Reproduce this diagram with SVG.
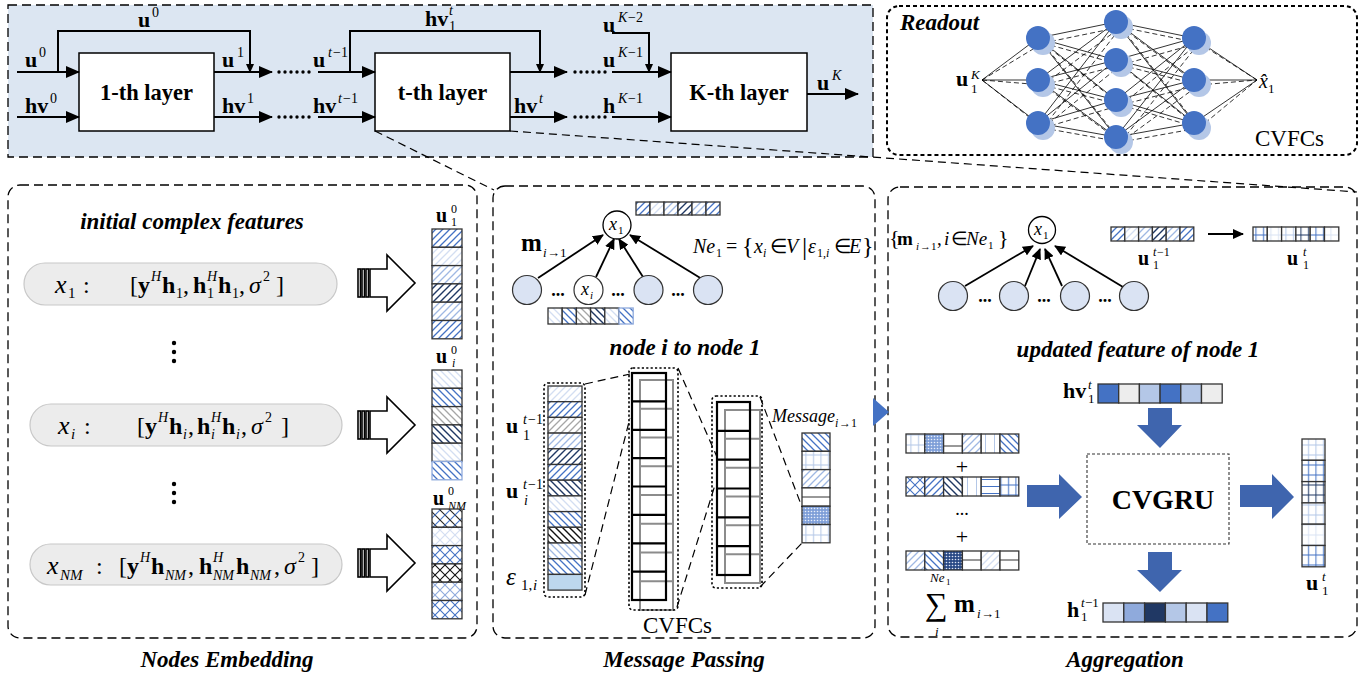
<svg xmlns="http://www.w3.org/2000/svg" width="1372" height="679" viewBox="0 0 1372 679">
<style>
.t{font-family:"Liberation Serif","Times New Roman",serif;fill:#000}
.b{font-weight:bold}
.i{font-style:italic}
.bi{font-weight:bold;font-style:italic}
.panel{fill:none;stroke:#000;stroke-width:1.3;stroke-dasharray:9,5}
.ln{stroke:#000;stroke-width:2;fill:none}
.ln1{stroke:#000;stroke-width:1.8;fill:none}
.c{stroke:#333;stroke-width:1.3}
.dot{fill:none;stroke:#000;stroke-width:1.6;stroke-dasharray:2.2,2.2}
.zl{fill:none;stroke:#000;stroke-width:1.2;stroke-dasharray:8,5}
.barr{fill:#3f65ae}
.box{fill:#fff;stroke:#000;stroke-width:1.5}
</style>
<defs>
<marker id="ah" markerWidth="14" markerHeight="12" refX="13" refY="6" orient="auto" markerUnits="userSpaceOnUse"><path d="M0,0L14,6L0,12z" fill="#000"/></marker>
<marker id="ahs" markerWidth="9" markerHeight="8" refX="8" refY="4" orient="auto" markerUnits="userSpaceOnUse"><path d="M0,0L9,4L0,8z" fill="#000"/></marker>
<marker id="ahm" markerWidth="11" markerHeight="10" refX="10" refY="5" orient="auto" markerUnits="userSpaceOnUse"><path d="M0,0L11,5L0,10z" fill="#000"/></marker>
<pattern id="sB" width="7" height="7" patternUnits="userSpaceOnUse"><rect width="7" height="7" fill="#fff"/><path d="M0,7L7,0M-1,1L1,-1M6,8L8,6" stroke="#4472c4" stroke-width="1.3"/></pattern>
<pattern id="sL" width="7" height="7" patternUnits="userSpaceOnUse"><rect width="7" height="7" fill="#fff"/><path d="M0,7L7,0M-1,1L1,-1M6,8L8,6" stroke="#9fb8e3" stroke-width="1.3"/></pattern>
<pattern id="sP" width="7" height="7" patternUnits="userSpaceOnUse"><rect width="7" height="7" fill="#fff"/><path d="M0,7L7,0M-1,1L1,-1M6,8L8,6" stroke="#d3def2" stroke-width="1.3"/></pattern>
<pattern id="sD" width="7" height="7" patternUnits="userSpaceOnUse"><rect width="7" height="7" fill="#fff"/><path d="M0,7L7,0M-1,1L1,-1M6,8L8,6" stroke="#1f3864" stroke-width="1.4"/></pattern>
<pattern id="sG" width="7" height="7" patternUnits="userSpaceOnUse"><rect width="7" height="7" fill="#fff"/><path d="M0,7L7,0M-1,1L1,-1M6,8L8,6" stroke="#a6a6a6" stroke-width="1.3"/></pattern>
<pattern id="kB" width="7" height="7" patternUnits="userSpaceOnUse"><rect width="7" height="7" fill="#fff"/><path d="M0,0L7,7M-1,6L1,8M6,-1L8,1" stroke="#4472c4" stroke-width="1.3"/></pattern>
<pattern id="kL" width="7" height="7" patternUnits="userSpaceOnUse"><rect width="7" height="7" fill="#fff"/><path d="M0,0L7,7M-1,6L1,8M6,-1L8,1" stroke="#9fb8e3" stroke-width="1.3"/></pattern>
<pattern id="kP" width="7" height="7" patternUnits="userSpaceOnUse"><rect width="7" height="7" fill="#fff"/><path d="M0,0L7,7M-1,6L1,8M6,-1L8,1" stroke="#d3def2" stroke-width="1.3"/></pattern>
<pattern id="kD" width="7" height="7" patternUnits="userSpaceOnUse"><rect width="7" height="7" fill="#fff"/><path d="M0,0L7,7M-1,6L1,8M6,-1L8,1" stroke="#1f3864" stroke-width="1.4"/></pattern>
<pattern id="kG" width="7" height="7" patternUnits="userSpaceOnUse"><rect width="7" height="7" fill="#fff"/><path d="M0,0L7,7M-1,6L1,8M6,-1L8,1" stroke="#a6a6a6" stroke-width="1.3"/></pattern>
<pattern id="kK" width="7" height="7" patternUnits="userSpaceOnUse"><rect width="7" height="7" fill="#fff"/><path d="M0,0L7,7M-1,6L1,8M6,-1L8,1" stroke="#111" stroke-width="1.4"/></pattern>
<pattern id="xB" width="10" height="10" patternUnits="userSpaceOnUse"><rect width="10" height="10" fill="#fff"/><path d="M0,0L10,10M0,10L10,0" stroke="#4472c4" stroke-width="1.1"/></pattern>
<pattern id="xL" width="10" height="10" patternUnits="userSpaceOnUse"><rect width="10" height="10" fill="#fff"/><path d="M0,0L10,10M0,10L10,0" stroke="#8faadc" stroke-width="1.1"/></pattern>
<pattern id="xP" width="10" height="10" patternUnits="userSpaceOnUse"><rect width="10" height="10" fill="#fff"/><path d="M0,0L10,10M0,10L10,0" stroke="#d3def2" stroke-width="1.1"/></pattern>
<pattern id="xK" width="10" height="10" patternUnits="userSpaceOnUse"><rect width="10" height="10" fill="#fff"/><path d="M0,0L10,10M0,10L10,0" stroke="#111" stroke-width="1.1"/></pattern>
<pattern id="xD" width="10" height="10" patternUnits="userSpaceOnUse"><rect width="10" height="10" fill="#fff"/><path d="M0,0L10,10" stroke="#222" stroke-width="1.1"/><path d="M0,10L10,0" stroke="#4472c4" stroke-width="1.1"/></pattern>
<pattern id="dB" width="3" height="3" patternUnits="userSpaceOnUse"><rect width="3" height="3" fill="#7f9fd8"/><circle cx="1.5" cy="1.5" r="0.8" fill="#e8eefa"/></pattern>
<pattern id="dD" width="3" height="3" patternUnits="userSpaceOnUse"><rect width="3" height="3" fill="#2a4a86"/><circle cx="1.5" cy="1.5" r="0.8" fill="#dfe6f5"/></pattern>
<pattern id="gL" width="7.5" height="10" patternUnits="userSpaceOnUse"><rect width="7.5" height="10" fill="#fff"/><path d="M3.5,0V10M0,5H7.5" stroke="#b4c7e7" stroke-width="1"/></pattern>
<pattern id="gB" width="7.5" height="10" patternUnits="userSpaceOnUse"><rect width="7.5" height="10" fill="#fff"/><path d="M3.5,0V10M0,5H7.5" stroke="#4472c4" stroke-width="1"/></pattern>
<pattern id="gD" width="7.5" height="10" patternUnits="userSpaceOnUse"><rect width="7.5" height="10" fill="#fff"/><path d="M3.5,0V10M0,5H7.5" stroke="#1f3864" stroke-width="1"/></pattern>
<pattern id="gP" width="7.5" height="10" patternUnits="userSpaceOnUse"><rect width="7.5" height="10" fill="#fff"/><path d="M3.5,0V10M0,5H7.5" stroke="#dae3f3" stroke-width="1"/></pattern>
<pattern id="vL" width="9" height="9" patternUnits="userSpaceOnUse"><rect width="9" height="9" fill="#fff"/><path d="M4.5,0V9" stroke="#b4c7e7" stroke-width="1"/></pattern>
<pattern id="hB" width="6" height="7" patternUnits="userSpaceOnUse"><rect width="6" height="7" fill="#fff"/><path d="M0,3.5H6" stroke="#4472c4" stroke-width="1"/></pattern>
</defs>
<rect width="1372" height="679" fill="#fff"/>

<!-- Top layered bar -->
<g id="layers-panel">
<rect x="8" y="5" width="865" height="152" fill="#dce6f2" stroke="#000" stroke-width="1.3" stroke-dasharray="9,5"/>
</g>
<g id="layer1"><rect class="box" x="79" y="53" width="135" height="78"/><text class="t b" x="146.5" y="100" font-size="22.5" text-anchor="middle">1-th layer</text></g>
<g id="layert"><rect class="box" x="375" y="53" width="135" height="78"/><text class="t b" x="442.5" y="100" font-size="22.5" text-anchor="middle">t-th layer</text></g>
<g id="layerK"><rect class="box" x="671" y="53" width="136" height="78"/><text class="t b" x="739" y="100" font-size="22.5" text-anchor="middle">K-th layer</text></g>

<g id="top-connectors">
<path class="ln" d="M17,72H79" marker-end="url(#ah)"/>
<path class="ln" d="M17,117H79" marker-end="url(#ah)"/>
<path class="ln" d="M58,72V31H250V72" marker-end="url(#ahs)"/>
<path class="ln" d="M214,72H272" marker-end="url(#ah)"/>
<path class="ln" d="M214,117H272" marker-end="url(#ah)"/>
<path class="ln" d="M318,72H375" marker-end="url(#ah)"/>
<path class="ln" d="M318,117H375" marker-end="url(#ah)"/>
<path class="ln" d="M350,72V31H540V72" marker-end="url(#ahs)"/>
<path class="ln" d="M510,72H567" marker-end="url(#ah)"/>
<path class="ln" d="M510,117H567" marker-end="url(#ah)"/>
<path class="ln" d="M612,33H649V72" marker-end="url(#ahs)"/>
<path class="ln" d="M612,72H671" marker-end="url(#ah)"/>
<path class="ln" d="M612,117H671" marker-end="url(#ah)"/>
<path class="ln" d="M807,94H858" marker-end="url(#ah)"/>
<g fill="#000">
<circle cx="279" cy="72" r="1.7"/><circle cx="285" cy="72" r="1.7"/><circle cx="291" cy="72" r="1.7"/><circle cx="297" cy="72" r="1.7"/><circle cx="303" cy="72" r="1.7"/><circle cx="309" cy="72" r="1.7"/>
<circle cx="279" cy="117" r="1.7"/><circle cx="285" cy="117" r="1.7"/><circle cx="291" cy="117" r="1.7"/><circle cx="297" cy="117" r="1.7"/><circle cx="303" cy="117" r="1.7"/><circle cx="309" cy="117" r="1.7"/>
<circle cx="575" cy="72" r="1.7"/><circle cx="581" cy="72" r="1.7"/><circle cx="587" cy="72" r="1.7"/><circle cx="593" cy="72" r="1.7"/><circle cx="599" cy="72" r="1.7"/><circle cx="605" cy="72" r="1.7"/>
<circle cx="575" cy="117" r="1.7"/><circle cx="581" cy="117" r="1.7"/><circle cx="587" cy="117" r="1.7"/><circle cx="593" cy="117" r="1.7"/><circle cx="599" cy="117" r="1.7"/><circle cx="605" cy="117" r="1.7"/>
</g>
<path class="zl" d="M375,131L494,190"/>
<path class="zl" d="M510,131L1357,192"/>
</g>
<g id="top-labels" class="t">
<text><tspan class="b" x="25" y="67" font-size="22">u</tspan><tspan x="39" y="57" font-size="14">0</tspan></text>
<text><tspan class="b" x="138" y="27" font-size="22">u</tspan><tspan x="152" y="17" font-size="14">0</tspan></text>
<text><tspan class="b" x="25" y="113" font-size="22">hv</tspan><tspan x="50" y="103" font-size="14">0</tspan></text>
<text><tspan class="b" x="222" y="67" font-size="22">u</tspan><tspan x="237" y="57" font-size="14">1</tspan></text>
<text><tspan class="b" x="222" y="113" font-size="22">hv</tspan><tspan x="247" y="103" font-size="14">1</tspan></text>
<text><tspan class="b" x="313" y="67" font-size="22">u</tspan><tspan class="i" x="328" y="57" font-size="14">t</tspan><tspan x="333" y="57" font-size="14">−1</tspan></text>
<text><tspan class="b" x="313" y="113" font-size="22">hv</tspan><tspan class="i" x="338" y="103" font-size="14">t</tspan><tspan x="343" y="103" font-size="14">−1</tspan></text>
<text><tspan class="b" x="425" y="26" font-size="22">hv</tspan><tspan class="i" x="449" y="15" font-size="14">t</tspan><tspan x="449" y="31" font-size="14">1</tspan></text>
<text><tspan class="b" x="514" y="113" font-size="22">hv</tspan><tspan class="i" x="539" y="103" font-size="14">t</tspan></text>
<text><tspan class="b" x="603" y="32" font-size="22">u</tspan><tspan class="i" x="618" y="22" font-size="14">K</tspan><tspan x="628" y="22" font-size="14">−2</tspan></text>
<text><tspan class="b" x="603" y="67" font-size="22">u</tspan><tspan class="i" x="618" y="57" font-size="14">K</tspan><tspan x="628" y="57" font-size="14">−1</tspan></text>
<text><tspan class="b" x="603" y="113" font-size="22">h</tspan><tspan class="i" x="618" y="103" font-size="14">K</tspan><tspan x="628" y="103" font-size="14">−1</tspan></text>
<text><tspan class="b" x="817" y="90" font-size="22">u</tspan><tspan class="i" x="832" y="80" font-size="14">K</tspan></text>
</g>

<!-- Readout -->
<g id="readout">
<rect x="887" y="6" width="470" height="149" rx="12" fill="none" stroke="#000" stroke-width="2" stroke-dasharray="4,3"/>
<text class="t bi" x="900" y="30" font-size="23">Readout</text>
<path fill="none" stroke="#000" stroke-width="0.8" d="M982,80L1038,38M982,80L1038,80M982,80L1038,123M1038,38L1116,22M1038,38L1116,60M1038,38L1116,100M1038,38L1116,137M1038,80L1116,22M1038,80L1116,60M1038,80L1116,100M1038,80L1116,137M1038,123L1116,22M1038,123L1116,60M1038,123L1116,100M1038,123L1116,137M1116,22L1194,38M1116,22L1194,80M1116,22L1194,123M1116,60L1194,38M1116,60L1194,80M1116,60L1194,123M1116,100L1194,38M1116,100L1194,80M1116,100L1194,123M1116,137L1194,38M1116,137L1194,80M1116,137L1194,123M1194,38L1257,80M1194,80L1257,80M1194,123L1257,80"/>
<path fill="none" stroke="#000" stroke-width="0.8" stroke-dasharray="5,3" d="M982,80L1043,43M982,80L1043,85M982,80L1043,128M1043,43L1121,27M1043,43L1121,65M1043,43L1121,105M1043,43L1121,142M1043,85L1121,27M1043,85L1121,65M1043,85L1121,105M1043,85L1121,142M1043,128L1121,27M1043,128L1121,65M1043,128L1121,105M1043,128L1121,142M1121,27L1199,43M1121,27L1199,85M1121,27L1199,128M1121,65L1199,43M1121,65L1199,85M1121,65L1199,128M1121,105L1199,43M1121,105L1199,85M1121,105L1199,128M1121,142L1199,43M1121,142L1199,85M1121,142L1199,128M1199,43L1257,80M1199,85L1257,80M1199,128L1257,80"/>
<g fill="#b4c7e7">
<circle cx="1043" cy="43" r="12"/><circle cx="1043" cy="85" r="12"/><circle cx="1043" cy="128" r="12"/>
<circle cx="1121" cy="27" r="12"/><circle cx="1121" cy="65" r="12"/><circle cx="1121" cy="105" r="12"/><circle cx="1121" cy="142" r="12"/>
<circle cx="1199" cy="43" r="12"/><circle cx="1199" cy="85" r="12"/><circle cx="1199" cy="128" r="12"/>
</g>
<g fill="#4472c4">
<circle cx="1038" cy="38" r="12"/><circle cx="1038" cy="80" r="12"/><circle cx="1038" cy="123" r="12"/>
<circle cx="1116" cy="22" r="12"/><circle cx="1116" cy="60" r="12"/><circle cx="1116" cy="100" r="12"/><circle cx="1116" cy="137" r="12"/>
<circle cx="1194" cy="38" r="12"/><circle cx="1194" cy="80" r="12"/><circle cx="1194" cy="123" r="12"/>
</g>
<text class="t"><tspan class="b" x="956" y="86" font-size="22">u</tspan><tspan class="i" x="971" y="79" font-size="13">K</tspan><tspan x="971" y="93" font-size="13">1</tspan></text>
<text class="t"><tspan class="i" x="1259" y="88" font-size="20">x̂</tspan><tspan x="1268" y="93" font-size="13">1</tspan></text>
<text class="t" x="1255" y="146" font-size="23">CVFCs</text>
</g>

<!-- Nodes Embedding -->
<g id="nodes-embedding">
<rect class="panel" x="8" y="185" width="469" height="453" rx="12"/>
<text class="t bi" x="192" y="229" font-size="23" text-anchor="middle">initial complex features</text>
<text class="t bi" x="227" y="667" font-size="23" text-anchor="middle">Nodes Embedding</text>
</g>
<g id="pill1">
<rect x="24" y="263" width="313" height="42" rx="21" fill="#ececec" stroke="#c8c8c8" stroke-width="1.2"/>
<text class="t" font-size="24"><tspan class="i" x="55" y="293" font-size="26">x</tspan><tspan x="68" y="298" font-size="15">1</tspan><tspan x="83" y="293">:</tspan><tspan x="130" y="293">[</tspan><tspan class="b" x="138" y="293">y</tspan><tspan class="i" x="151" y="281" font-size="14">H</tspan><tspan class="b" x="162" y="293">h</tspan><tspan x="176" y="298" font-size="14">1</tspan><tspan x="183" y="293">,</tspan><tspan class="b" x="193" y="293">h</tspan><tspan class="i" x="207" y="281" font-size="14">H</tspan><tspan x="207" y="298" font-size="14">1</tspan><tspan class="b" x="218" y="293">h</tspan><tspan x="232" y="298" font-size="14">1</tspan><tspan x="239" y="293">,</tspan><tspan class="i" x="249" y="293">σ</tspan><tspan x="263" y="281" font-size="14">2</tspan><tspan x="276" y="293">]</tspan></text>
</g>
<g id="pill2">
<rect x="30" y="404" width="312" height="42" rx="21" fill="#ececec" stroke="#c8c8c8" stroke-width="1.2"/>
<text class="t" font-size="24"><tspan class="i" x="58" y="434" font-size="26">x</tspan><tspan class="i" x="71" y="439" font-size="15">i</tspan><tspan x="84" y="434">:</tspan><tspan x="137" y="434">[</tspan><tspan class="b" x="145" y="434">y</tspan><tspan class="i" x="158" y="422" font-size="14">H</tspan><tspan class="b" x="169" y="434">h</tspan><tspan class="i" x="183" y="439" font-size="14">i</tspan><tspan x="188" y="434">,</tspan><tspan class="b" x="197" y="434">h</tspan><tspan class="i" x="211" y="422" font-size="14">H</tspan><tspan class="i" x="211" y="439" font-size="14">i</tspan><tspan class="b" x="222" y="434">h</tspan><tspan class="i" x="236" y="439" font-size="14">i</tspan><tspan x="241" y="434">,</tspan><tspan class="i" x="251" y="434">σ</tspan><tspan x="265" y="422" font-size="14">2</tspan><tspan x="281" y="434">]</tspan></text>
</g>
<g id="pill3">
<rect x="30" y="544" width="312" height="41" rx="20.5" fill="#ececec" stroke="#c8c8c8" stroke-width="1.2"/>
<text class="t" font-size="24"><tspan class="i" x="47" y="574" font-size="26">x</tspan><tspan class="i" x="60" y="580" font-size="15">NM</tspan><tspan x="96" y="574">:</tspan><tspan x="119" y="574">[</tspan><tspan class="b" x="127" y="574">y</tspan><tspan class="i" x="140" y="562" font-size="14">H</tspan><tspan class="b" x="151" y="574">h</tspan><tspan class="i" x="165" y="580" font-size="14">NM</tspan><tspan x="188" y="574">,</tspan><tspan class="b" x="199" y="574">h</tspan><tspan class="i" x="213" y="562" font-size="14">H</tspan><tspan class="i" x="213" y="580" font-size="14">NM</tspan><tspan class="b" x="236" y="574">h</tspan><tspan class="i" x="250" y="580" font-size="14">NM</tspan><tspan x="274" y="574">,</tspan><tspan class="i" x="284" y="574">σ</tspan><tspan x="298" y="562" font-size="14">2</tspan><tspan x="311" y="574">]</tspan></text>
</g>
<g id="vdots" fill="#000">
<circle cx="174" cy="343" r="2.2"/><circle cx="174" cy="352" r="2.2"/><circle cx="174" cy="361" r="2.2"/>
<circle cx="174" cy="484" r="2.2"/><circle cx="174" cy="493" r="2.2"/><circle cx="174" cy="502" r="2.2"/>
</g>
<g id="embed-arrows" fill="#fff" stroke="#000" stroke-width="1.6">
<rect x="358" y="269" width="2.5" height="28"/><rect x="362" y="269" width="2.5" height="28"/><rect x="366" y="269" width="2.5" height="28"/>
<path d="M370,269H387V255L415,283L387,311V297H370Z"/>
<rect x="358" y="411" width="2.5" height="28"/><rect x="362" y="411" width="2.5" height="28"/><rect x="366" y="411" width="2.5" height="28"/>
<path d="M370,411H387V397L415,425L387,453V439H370Z"/>
<rect x="358" y="549" width="2.5" height="28"/><rect x="362" y="549" width="2.5" height="28"/><rect x="366" y="549" width="2.5" height="28"/>
<path d="M370,549H387V535L415,563L387,591V577H370Z"/>
</g>
<g id="u1-0">
<text class="t"><tspan class="b" x="436" y="222" font-size="20">u</tspan><tspan x="451" y="213" font-size="12">0</tspan><tspan x="451" y="226" font-size="12">1</tspan></text>
<rect class="c" x="432" y="229" width="30" height="18.3" fill="url(#sB)"/>
<rect class="c" x="432" y="247.3" width="30" height="18.3" fill="url(#sP)"/>
<rect class="c" x="432" y="265.6" width="30" height="18.3" fill="url(#sL)"/>
<rect class="c" x="432" y="283.9" width="30" height="18.3" fill="url(#sD)"/>
<rect class="c" x="432" y="302.2" width="30" height="18.3" fill="url(#sL)"/>
<rect class="c" x="432" y="320.5" width="30" height="18.3" fill="url(#sB)"/>
</g>
<g id="ui-0">
<text class="t"><tspan class="b" x="436" y="363" font-size="20">u</tspan><tspan x="451" y="354" font-size="12">0</tspan><tspan class="i" x="452" y="367" font-size="12">i</tspan></text>
<rect class="c" x="432" y="370" width="30" height="18.3" fill="url(#kP)"/>
<rect class="c" x="432" y="388.3" width="30" height="18.3" fill="url(#kB)"/>
<rect class="c" x="432" y="406.6" width="30" height="18.3" fill="url(#kG)"/>
<rect class="c" x="432" y="424.9" width="30" height="18.3" fill="url(#kD)"/>
<rect class="c" x="432" y="443.2" width="30" height="18.3" fill="url(#kP)"/>
<rect x="432" y="461.5" width="30" height="18.3" fill="url(#kB)" stroke="#8faadc" stroke-width="1.3"/>
</g>
<g id="uNM-0">
<text class="t"><tspan class="b" x="433" y="505" font-size="20">u</tspan><tspan x="448" y="495" font-size="12">0</tspan><tspan class="i" x="448" y="510" font-size="12">NM</tspan></text>
<rect class="c" x="432" y="509" width="30" height="18.3" fill="url(#xD)"/>
<rect class="c" x="432" y="527.3" width="30" height="18.3" fill="url(#xP)"/>
<rect class="c" x="432" y="545.6" width="30" height="18.3" fill="url(#xB)"/>
<rect class="c" x="432" y="563.9" width="30" height="18.3" fill="url(#xK)"/>
<rect class="c" x="432" y="582.2" width="30" height="18.3" fill="url(#xL)"/>
<rect class="c" x="432" y="600.5" width="30" height="18.3" fill="url(#xB)"/>
</g>

<!-- Message Passing -->
<g id="message-passing">
<rect class="panel" x="493" y="186" width="382" height="452" rx="12"/>
<text class="t bi" x="685" y="355" font-size="23" text-anchor="middle">node i to node 1</text>
<text class="t bi" x="684" y="667" font-size="23" text-anchor="middle">Message Passing</text>
</g>
<g id="mp-graph-edges">
<path class="ln1" d="M538,278L603,235" marker-end="url(#ahm)"/>
<path class="ln1" d="M596,277L614,239" marker-end="url(#ahm)"/>
<path class="ln1" d="M643,277L619,239" marker-end="url(#ahm)"/>
<path class="ln1" d="M702,279L630,235" marker-end="url(#ahm)"/>
</g>
<g id="mp-x1"><circle cx="617" cy="225" r="14" fill="#fff" stroke="#000" stroke-width="1.3"/><text class="t"><tspan class="i" x="609" y="230" font-size="18">x</tspan><tspan x="618" y="234" font-size="11">1</tspan></text></g>
<g id="mp-n1"><circle cx="527" cy="290" r="14.5" fill="#dae3f3" stroke="#333" stroke-width="1.2"/></g>
<g id="mp-xi"><circle cx="588.5" cy="290" r="14.5" fill="#fff" stroke="#333" stroke-width="1.2"/><text class="t"><tspan class="i" x="581" y="295" font-size="18">x</tspan><tspan class="i" x="590" y="299" font-size="11">i</tspan></text></g>
<g id="mp-n3"><circle cx="648.5" cy="290" r="14.5" fill="#dae3f3" stroke="#333" stroke-width="1.2"/></g>
<g id="mp-n4"><circle cx="708" cy="290" r="14.5" fill="#dae3f3" stroke="#333" stroke-width="1.2"/></g>
<g class="t b" font-size="18" text-anchor="middle"><text x="558" y="296">...</text><text x="618" y="296">...</text><text x="678" y="296">...</text></g>
<text class="t"><tspan class="b" x="521" y="251" font-size="25">m</tspan><tspan class="i" x="543" y="257" font-size="13">i</tspan><tspan x="547" y="257" font-size="13">→1</tspan></text>
<text class="t i" font-size="20"><tspan x="693" y="253">Ne</tspan><tspan x="716" y="257" font-size="12" font-style="normal">1</tspan><tspan x="726" y="253" font-style="normal">=</tspan><tspan x="742" y="254" font-size="24" font-style="normal">{</tspan><tspan x="754" y="253">x</tspan><tspan x="763" y="257" font-size="12">i</tspan><tspan x="770" y="253" font-style="normal">∈</tspan><tspan x="786" y="253">V</tspan><tspan x="802" y="255" font-size="26" font-style="normal">|</tspan><tspan x="808" y="253">ε</tspan><tspan x="817" y="257" font-size="12" font-style="normal">1,</tspan><tspan x="826" y="257" font-size="12">i</tspan><tspan x="834" y="253" font-style="normal">∈</tspan><tspan x="849" y="253">E</tspan><tspan x="862" y="254" font-size="24" font-style="normal">}</tspan></text>
<g id="mp-vec-top">
<rect class="c" x="636" y="202" width="14" height="13" fill="url(#sB)"/>
<rect class="c" x="650" y="202" width="14" height="13" fill="url(#sP)"/>
<rect class="c" x="664" y="202" width="14" height="13" fill="url(#sL)"/>
<rect class="c" x="678" y="202" width="14" height="13" fill="url(#sD)"/>
<rect class="c" x="692" y="202" width="14" height="13" fill="url(#sL)"/>
<rect class="c" x="706" y="202" width="14" height="13" fill="url(#sB)"/>
</g>
<g id="mp-vec-xi">
<rect class="c" x="548" y="308" width="14.2" height="16" fill="url(#kP)"/>
<rect class="c" x="562.2" y="308" width="14.2" height="16" fill="url(#kB)"/>
<rect class="c" x="576.4" y="308" width="14.2" height="16" fill="url(#kG)"/>
<rect class="c" x="590.6" y="308" width="14.2" height="16" fill="url(#kD)"/>
<rect class="c" x="604.8" y="308" width="14.2" height="16" fill="url(#kP)"/>
<rect x="619" y="308" width="14.2" height="16" fill="url(#kB)" stroke="#8faadc" stroke-width="1.3"/>
</g>
<g id="mp-input">
<rect class="c" x="548" y="386" width="34" height="15.7" fill="url(#sP)"/>
<rect class="c" x="548" y="401.7" width="34" height="15.7" fill="url(#sB)"/>
<rect class="c" x="548" y="417.4" width="34" height="15.7" fill="url(#sG)"/>
<rect class="c" x="548" y="433.1" width="34" height="15.7" fill="url(#sL)"/>
<rect class="c" x="548" y="448.8" width="34" height="15.7" fill="url(#sD)"/>
<rect class="c" x="548" y="464.5" width="34" height="15.7" fill="url(#sB)"/>
<rect class="c" x="548" y="480.2" width="34" height="15.7" fill="url(#kD)"/>
<rect class="c" x="548" y="495.9" width="34" height="15.7" fill="url(#kP)"/>
<rect class="c" x="548" y="511.6" width="34" height="15.7" fill="url(#kB)"/>
<rect class="c" x="548" y="527.3" width="34" height="15.7" fill="url(#kK)"/>
<rect class="c" x="548" y="543" width="34" height="15.7" fill="url(#kL)"/>
<rect class="c" x="548" y="558.7" width="34" height="15.7" fill="url(#kB)"/>
<rect class="c" x="548" y="574.4" width="34" height="15.7" fill="#bdd7ee"/>
<rect class="dot" x="544" y="383" width="41" height="214" rx="4"/>
<text class="t"><tspan class="b" x="506" y="433" font-size="22">u</tspan><tspan class="i" x="523" y="424" font-size="14">t</tspan><tspan x="528" y="424" font-size="14">−1</tspan><tspan x="523" y="440" font-size="14">1</tspan></text>
<text class="t"><tspan class="b" x="506" y="498" font-size="22">u</tspan><tspan class="i" x="523" y="489" font-size="14">t</tspan><tspan x="528" y="489" font-size="14">−1</tspan><tspan class="i" x="524" y="505" font-size="14">i</tspan></text>
<text class="t"><tspan class="i" x="506" y="585" font-size="25">ε</tspan><tspan x="521" y="590" font-size="15">1,</tspan><tspan class="i" x="533" y="590" font-size="15">i</tspan></text>
</g>
<g id="cvfc1">
<rect x="640" y="380" width="33" height="230" fill="none" stroke="#8c8c8c" stroke-width="2"/>
<path fill="none" stroke="#8c8c8c" stroke-width="2" d="M640,408.75H673M640,437.5H673M640,466.25H673M640,495H673M640,523.75H673M640,552.5H673M640,581.25H673"/>
<rect x="632" y="373" width="34" height="227" fill="none" stroke="#000" stroke-width="2.2"/>
<path fill="none" stroke="#000" stroke-width="2.2" d="M632,401.4H666M632,429.8H666M632,458.1H666M632,486.5H666M632,514.9H666M632,543.3H666M632,571.6H666"/>
<rect class="dot" x="629" y="368" width="49" height="242" rx="4"/>
</g>
<g id="cvfc2">
<rect x="725" y="410" width="35" height="173" fill="none" stroke="#8c8c8c" stroke-width="2"/>
<path fill="none" stroke="#8c8c8c" stroke-width="2" d="M725,438.8H760M725,467.7H760M725,496.5H760M725,525.3H760M725,554.2H760"/>
<rect x="717" y="402" width="33" height="173" fill="none" stroke="#000" stroke-width="2.2"/>
<path fill="none" stroke="#000" stroke-width="2.2" d="M717,430.8H750M717,459.7H750M717,488.5H750M717,517.3H750M717,546.2H750"/>
<rect class="dot" x="712" y="396" width="50" height="192" rx="4"/>
</g>
<g id="message-vec">
<text class="t"><tspan class="i" x="772" y="422" font-size="18">Message</tspan><tspan class="i" x="835" y="427" font-size="12">i</tspan><tspan x="839" y="427" font-size="12">→1</tspan></text>
<rect class="c" x="802" y="433" width="28" height="18.3" fill="url(#kB)"/>
<rect class="c" x="802" y="451.3" width="28" height="18.3" fill="url(#gL)"/>
<rect class="c" x="802" y="469.6" width="28" height="18.3" fill="url(#sL)"/>
<rect class="c" x="802" y="487.9" width="28" height="18.3" fill="#fff"/>
<line x1="802" y1="497" x2="830" y2="497" stroke="#333" stroke-width="1"/>
<rect class="c" x="802" y="506.2" width="28" height="18.3" fill="url(#dB)"/>
<rect class="c" x="802" y="524.5" width="28" height="18.3" fill="url(#gL)"/>
</g>
<text class="t" x="643" y="633" font-size="23">CVFCs</text>
<g id="mp-zoom-lines">
<path class="zl" d="M585,384L630,374"/>
<path class="zl" d="M585,595L630,418"/>
<path class="zl" d="M678,368L717,457"/>
<path class="zl" d="M677,607L715,485"/>
<path class="zl" d="M760,397L802,507"/>
<path class="zl" d="M760,587L802,543"/>
</g>

<!-- Aggregation -->
<g id="aggregation">
<rect class="panel" x="888" y="187" width="469" height="450" rx="12"/>
<text class="t bi" x="1138" y="357" font-size="23" text-anchor="middle">updated feature of node 1</text>
<text class="t bi" x="1125" y="667" font-size="23" text-anchor="middle">Aggregation</text>
</g>
<polygon points="873,398 889,412 873,426" fill="#4472c4"/>
<text class="t" font-size="19"><tspan x="889" y="245" font-size="22">{</tspan><tspan class="b" x="897" y="245">m</tspan><tspan class="i" x="916" y="250" font-size="11">i</tspan><tspan x="920" y="250" font-size="11">→1</tspan><tspan x="937" y="245">,</tspan><tspan class="i" x="944" y="245">i</tspan><tspan x="951" y="245">∈</tspan><tspan class="i" x="966" y="245">Ne</tspan><tspan x="988" y="249" font-size="11">1</tspan><tspan x="998" y="245" font-size="22">}</tspan></text>
<g id="ag-edges">
<path class="ln1" d="M965,286L1033,246" marker-end="url(#ahm)"/>
<path class="ln1" d="M1025,286L1040,249" marker-end="url(#ahm)"/>
<path class="ln1" d="M1062,286L1045,249" marker-end="url(#ahm)"/>
<path class="ln1" d="M1123,287L1055,246" marker-end="url(#ahm)"/>
<path class="ln1" d="M1208,234H1243" marker-end="url(#ahm)"/>
</g>
<g id="ag-x1"><circle cx="1042" cy="230" r="13.5" fill="#fff" stroke="#000" stroke-width="1.3"/><text class="t"><tspan class="i" x="1034" y="235" font-size="18">x</tspan><tspan x="1043" y="239" font-size="11">1</tspan></text></g>
<g id="ag-n1"><circle cx="953" cy="296" r="14.5" fill="#dae3f3" stroke="#333" stroke-width="1.2"/></g>
<g id="ag-n2"><circle cx="1014" cy="296" r="14.5" fill="#dae3f3" stroke="#333" stroke-width="1.2"/></g>
<g id="ag-n3"><circle cx="1075" cy="296" r="14.5" fill="#dae3f3" stroke="#333" stroke-width="1.2"/></g>
<g id="ag-n4"><circle cx="1134" cy="296" r="14.5" fill="#dae3f3" stroke="#333" stroke-width="1.2"/></g>
<g class="t b" font-size="18" text-anchor="middle"><text x="985" y="302">...</text><text x="1044" y="302">...</text><text x="1105" y="302">...</text></g>
<g id="ag-u-prev">
<rect class="c" x="1111" y="227" width="13.8" height="14" fill="url(#sB)"/>
<rect class="c" x="1124.8" y="227" width="13.8" height="14" fill="url(#sP)"/>
<rect class="c" x="1138.6" y="227" width="13.8" height="14" fill="url(#sL)"/>
<rect class="c" x="1152.4" y="227" width="13.8" height="14" fill="url(#sD)"/>
<rect class="c" x="1166.2" y="227" width="13.8" height="14" fill="url(#sL)"/>
<rect class="c" x="1180" y="227" width="13.8" height="14" fill="url(#sB)"/>
<text class="t"><tspan class="b" x="1138" y="265" font-size="20">u</tspan><tspan class="i" x="1153" y="256" font-size="12">t</tspan><tspan x="1157" y="256" font-size="12">−1</tspan><tspan x="1153" y="269" font-size="12">1</tspan></text>
</g>
<g id="ag-u-new">
<rect class="c" x="1253" y="227" width="14.3" height="14" fill="url(#gB)"/>
<rect class="c" x="1267.3" y="227" width="14.3" height="14" fill="url(#gP)"/>
<rect class="c" x="1281.6" y="227" width="14.3" height="14" fill="url(#gL)"/>
<rect class="c" x="1295.9" y="227" width="14.3" height="14" fill="url(#gD)"/>
<rect class="c" x="1310.2" y="227" width="14.3" height="14" fill="url(#gB)"/>
<rect class="c" x="1324.5" y="227" width="14.3" height="14" fill="url(#gP)"/>
<text class="t"><tspan class="b" x="1287" y="265" font-size="20">u</tspan><tspan class="i" x="1303" y="256" font-size="12">t</tspan><tspan x="1303" y="269" font-size="12">1</tspan></text>
</g>
<g id="ag-hv">
<text class="t"><tspan class="b" x="1063" y="398" font-size="22">hv</tspan><tspan class="i" x="1088" y="389" font-size="13">t</tspan><tspan x="1088" y="403" font-size="13">1</tspan></text>
<rect class="c" x="1098" y="384" width="20.7" height="19" fill="#4472c4"/>
<rect class="c" x="1118.7" y="384" width="20.7" height="19" fill="#ededed"/>
<rect class="c" x="1139.4" y="384" width="20.7" height="19" fill="#b4c7e7"/>
<rect class="c" x="1160.1" y="384" width="20.7" height="19" fill="#4472c4"/>
<rect class="c" x="1180.8" y="384" width="20.7" height="19" fill="#b4c7e7"/>
<rect class="c" x="1201.5" y="384" width="20.7" height="19" fill="#ededed"/>
</g>
<g id="ag-h">
<text class="t"><tspan class="b" x="1067" y="617" font-size="22">h</tspan><tspan class="i" x="1081" y="607" font-size="13">t</tspan><tspan x="1085" y="607" font-size="13">−1</tspan><tspan x="1081" y="621" font-size="13">1</tspan></text>
<rect class="c" x="1103" y="603" width="20.8" height="19" fill="#dae3f3"/>
<rect class="c" x="1123.8" y="603" width="20.8" height="19" fill="#8faadc"/>
<rect class="c" x="1144.6" y="603" width="20.8" height="19" fill="#203864"/>
<rect class="c" x="1165.4" y="603" width="20.8" height="19" fill="#b4c7e7"/>
<rect class="c" x="1186.2" y="603" width="20.8" height="19" fill="#dae3f3"/>
<rect class="c" x="1207" y="603" width="20.8" height="19" fill="#4472c4"/>
</g>
<g id="ag-msgs">
<rect class="c" x="906" y="434" width="18.8" height="19" fill="url(#gL)"/>
<rect class="c" x="924.8" y="434" width="18.8" height="19" fill="url(#dB)"/>
<rect class="c" x="943.6" y="434" width="18.8" height="19" fill="#fff"/>
<rect class="c" x="962.4" y="434" width="18.8" height="19" fill="url(#sL)"/>
<rect class="c" x="981.2" y="434" width="18.8" height="19" fill="url(#vL)"/>
<rect class="c" x="1000" y="434" width="18.8" height="19" fill="url(#kB)"/>
<line x1="943.6" y1="446" x2="962.4" y2="446" stroke="#333" stroke-width="1"/>
<rect class="c" x="906" y="477" width="18.8" height="19" fill="url(#xB)"/>
<rect class="c" x="924.8" y="477" width="18.8" height="19" fill="url(#sB)"/>
<rect class="c" x="943.6" y="477" width="18.8" height="19" fill="url(#kD)"/>
<rect class="c" x="962.4" y="477" width="18.8" height="19" fill="url(#vL)"/>
<rect class="c" x="981.2" y="477" width="18.8" height="19" fill="url(#hB)"/>
<rect class="c" x="1000" y="477" width="18.8" height="19" fill="url(#gB)"/>
<rect class="c" x="906" y="551" width="18.8" height="19" fill="url(#sL)"/>
<rect class="c" x="924.8" y="551" width="18.8" height="19" fill="url(#kB)"/>
<rect class="c" x="943.6" y="551" width="18.8" height="19" fill="url(#dD)"/>
<rect class="c" x="962.4" y="551" width="18.8" height="19" fill="#fff"/>
<rect class="c" x="981.2" y="551" width="18.8" height="19" fill="url(#sP)"/>
<rect class="c" x="1000" y="551" width="18.8" height="19" fill="#fff"/>
<line x1="962.4" y1="560" x2="981.2" y2="560" stroke="#333" stroke-width="1"/>
<line x1="1000" y1="560" x2="1018.8" y2="560" stroke="#333" stroke-width="1"/>
<g class="t" font-size="22" text-anchor="middle"><text x="962" y="474">+</text><text x="962" y="544">+</text></g>
<text class="t" x="962" y="515" font-size="18" text-anchor="middle">...</text>
<text class="t" x="925" y="615" font-size="32">∑</text>
<text class="t"><tspan class="i" x="930" y="582" font-size="13">Ne</tspan><tspan x="946" y="585" font-size="9">1</tspan></text>
<text class="t i" x="935" y="636" font-size="13">i</text>
<text class="t"><tspan class="b" x="954" y="612" font-size="25">m</tspan><tspan class="i" x="977" y="618" font-size="13">i</tspan><tspan x="981" y="618" font-size="13">→1</tspan></text>
</g>
<g id="cvgru">
<rect x="1087" y="454" width="142" height="90" fill="none" stroke="#333" stroke-width="1.1" stroke-dasharray="3,2"/>
<text class="t b" x="1163" y="509" font-size="28" text-anchor="middle">CVGRU</text>
</g>
<g id="ag-block-arrows">
<path class="barr" d="M1148,408H1172V425H1182L1160,448L1137,425H1148Z"/>
<path class="barr" d="M1148,552H1172V570H1182L1160,592L1137,570H1148Z"/>
<path class="barr" d="M1027,485H1059V474L1082,497L1059,519V507H1027Z"/>
<path class="barr" d="M1240,485H1272V474L1294,497L1272,519V507H1240Z"/>
</g>
<g id="ag-u-vert">
<rect class="c" x="1302" y="439" width="23" height="21.3" fill="url(#gL)"/>
<rect class="c" x="1302" y="460.3" width="23" height="21.3" fill="url(#gB)"/>
<rect class="c" x="1302" y="481.6" width="23" height="21.3" fill="url(#gD)"/>
<rect class="c" x="1302" y="502.9" width="23" height="21.3" fill="url(#gL)"/>
<rect class="c" x="1302" y="524.2" width="23" height="21.3" fill="url(#gP)"/>
<rect class="c" x="1302" y="545.5" width="23" height="21.3" fill="url(#gB)"/>
<text class="t"><tspan class="b" x="1306" y="590" font-size="22">u</tspan><tspan class="i" x="1322" y="581" font-size="13">t</tspan><tspan x="1322" y="595" font-size="13">1</tspan></text>
</g>
</svg>
